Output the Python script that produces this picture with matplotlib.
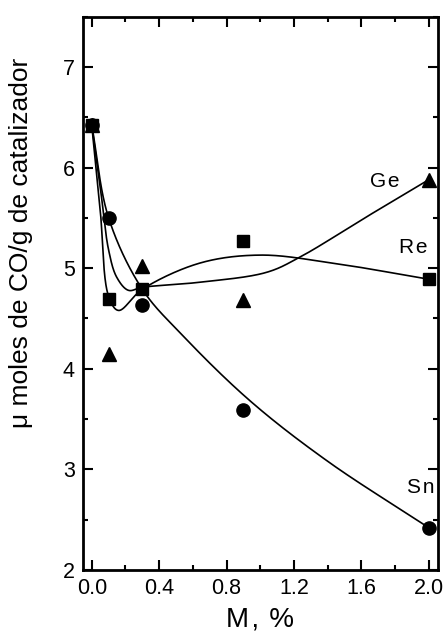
import numpy as np
import matplotlib
matplotlib.use("Agg")
import matplotlib.pyplot as plt
from matplotlib.ticker import MultipleLocator

# ---- data ----
metal_pct = [0.0, 0.1, 0.3, 0.9, 2.0]
sn_values = [6.42, 5.50, 4.63, 3.59, 2.42]
re_values = [6.42, 4.69, 4.79, 5.27, 4.89]
ge_values = [6.42, 4.15, 5.02, 4.68, 5.88]

# fitted-curve knots
sn_fit_x = [0.0, 0.1, 0.3, 0.54, 0.94, 1.4, 2.0]
sn_fit_y = [6.42, 5.50, 4.79, 4.33, 3.68, 3.08, 2.42]
re_fit_x = [0.0, 0.05, 0.1, 0.158, 0.3, 0.64, 1.0, 1.43, 2.0]
re_fit_y = [6.42, 5.58, 4.72, 4.58, 4.79, 5.05, 5.13, 5.05, 4.89]
ge_fit_x = [0.0, 0.05, 0.1, 0.148, 0.217, 0.3, 0.64, 1.04, 1.235, 1.63, 2.0]
ge_fit_y = [6.42, 5.81, 5.18, 4.91, 4.78, 4.81, 4.86, 4.96, 5.11, 5.51, 5.88]

series_labels = ["G\u200ae", "R\u200ae", "S\u200an"]
label_pos_x = [1.74, 1.906, 1.953]
label_pos_y = [5.86, 5.205, 2.82]

x_ticks = [0.0, 0.4, 0.8, 1.2, 1.6, 2.0]
y_ticks = [2, 3, 4, 5, 6, 7]


def smooth(xs, ys, n=60):
    """Centripetal Catmull-Rom through the knots (scaled space)."""
    P = np.column_stack([np.asarray(xs) / 2.1, np.asarray(ys) / 5.5 * 1.45])
    P = np.vstack([2 * P[0] - P[1], P, 2 * P[-1] - P[-2]])
    out = []
    for i in range(1, len(P) - 2):
        p0, p1, p2, p3 = P[i - 1], P[i], P[i + 1], P[i + 2]
        t0 = 0.0
        t1 = t0 + np.linalg.norm(p1 - p0) ** 0.5
        t2 = t1 + np.linalg.norm(p2 - p1) ** 0.5
        t3 = t2 + np.linalg.norm(p3 - p2) ** 0.5
        t = np.linspace(t1, t2, n)[:, None]
        A1 = (t1 - t) / (t1 - t0) * p0 + (t - t0) / (t1 - t0) * p1
        A2 = (t2 - t) / (t2 - t1) * p1 + (t - t1) / (t2 - t1) * p2
        A3 = (t3 - t) / (t3 - t2) * p2 + (t - t2) / (t3 - t2) * p3
        B1 = (t2 - t) / (t2 - t0) * A1 + (t - t0) / (t2 - t0) * A2
        B2 = (t3 - t) / (t3 - t1) * A2 + (t - t1) / (t3 - t1) * A3
        C = (t2 - t) / (t2 - t1) * B1 + (t - t1) / (t2 - t1) * B2
        out.append(C if i == 1 else C[1:])
    C = np.vstack(out)
    return C[:, 0] * 2.1, C[:, 1] * 5.5 / 1.45


plt.rcParams['font.family'] = ['Liberation Sans', 'DejaVu Sans']

fig = plt.figure(figsize=(4.47, 6.34), dpi=100)
ax = fig.add_axes([0.1857, 0.101, 0.7933, 0.8727])

lw = 1.2
for fx, fy in [(sn_fit_x, sn_fit_y), (re_fit_x, re_fit_y), (ge_fit_x, ge_fit_y)]:
    sx, sy = smooth(fx, fy)
    ax.plot(sx, sy, color='black', lw=lw, zorder=2)

ax.plot(metal_pct, sn_values, 'o', color='black', ms=9.5, zorder=3, clip_on=False)
ax.plot(metal_pct, re_values, 's', color='black', ms=8.5, zorder=3, clip_on=False)
ax.plot(metal_pct, ge_values, '^', color='black', ms=9.5, zorder=3, clip_on=False)

for lab, lx, ly in zip(series_labels, label_pos_x, label_pos_y):
    ax.text(lx, ly, lab, fontsize=15, ha='center', va='center', zorder=4)

ax.set_xlim(-0.052, 2.052)
ax.set_ylim(2, 7.5)
ax.set_xticks(x_ticks)
ax.set_xticklabels([f"{v:.1f}" for v in x_ticks])
ax.set_yticks(y_ticks)
ax.xaxis.set_minor_locator(MultipleLocator(0.2))
ax.yaxis.set_minor_locator(MultipleLocator(0.5))
ax.tick_params(which='both', direction='in', top=True, right=True, width=1.5,
               labelsize=15.5)
ax.tick_params(which='major', length=7, pad=6)
ax.tick_params(which='minor', length=3.5)
for s in ax.spines.values():
    s.set_linewidth(2)

ax.set_xlabel("M\u200a, \u200a%", fontsize=20, labelpad=5)
ax.set_ylabel("μ moles de CO/g de catalizador", fontsize=19)
ax.yaxis.set_label_coords(-0.14, 0.592)

fig.savefig("out.png", dpi=100)
